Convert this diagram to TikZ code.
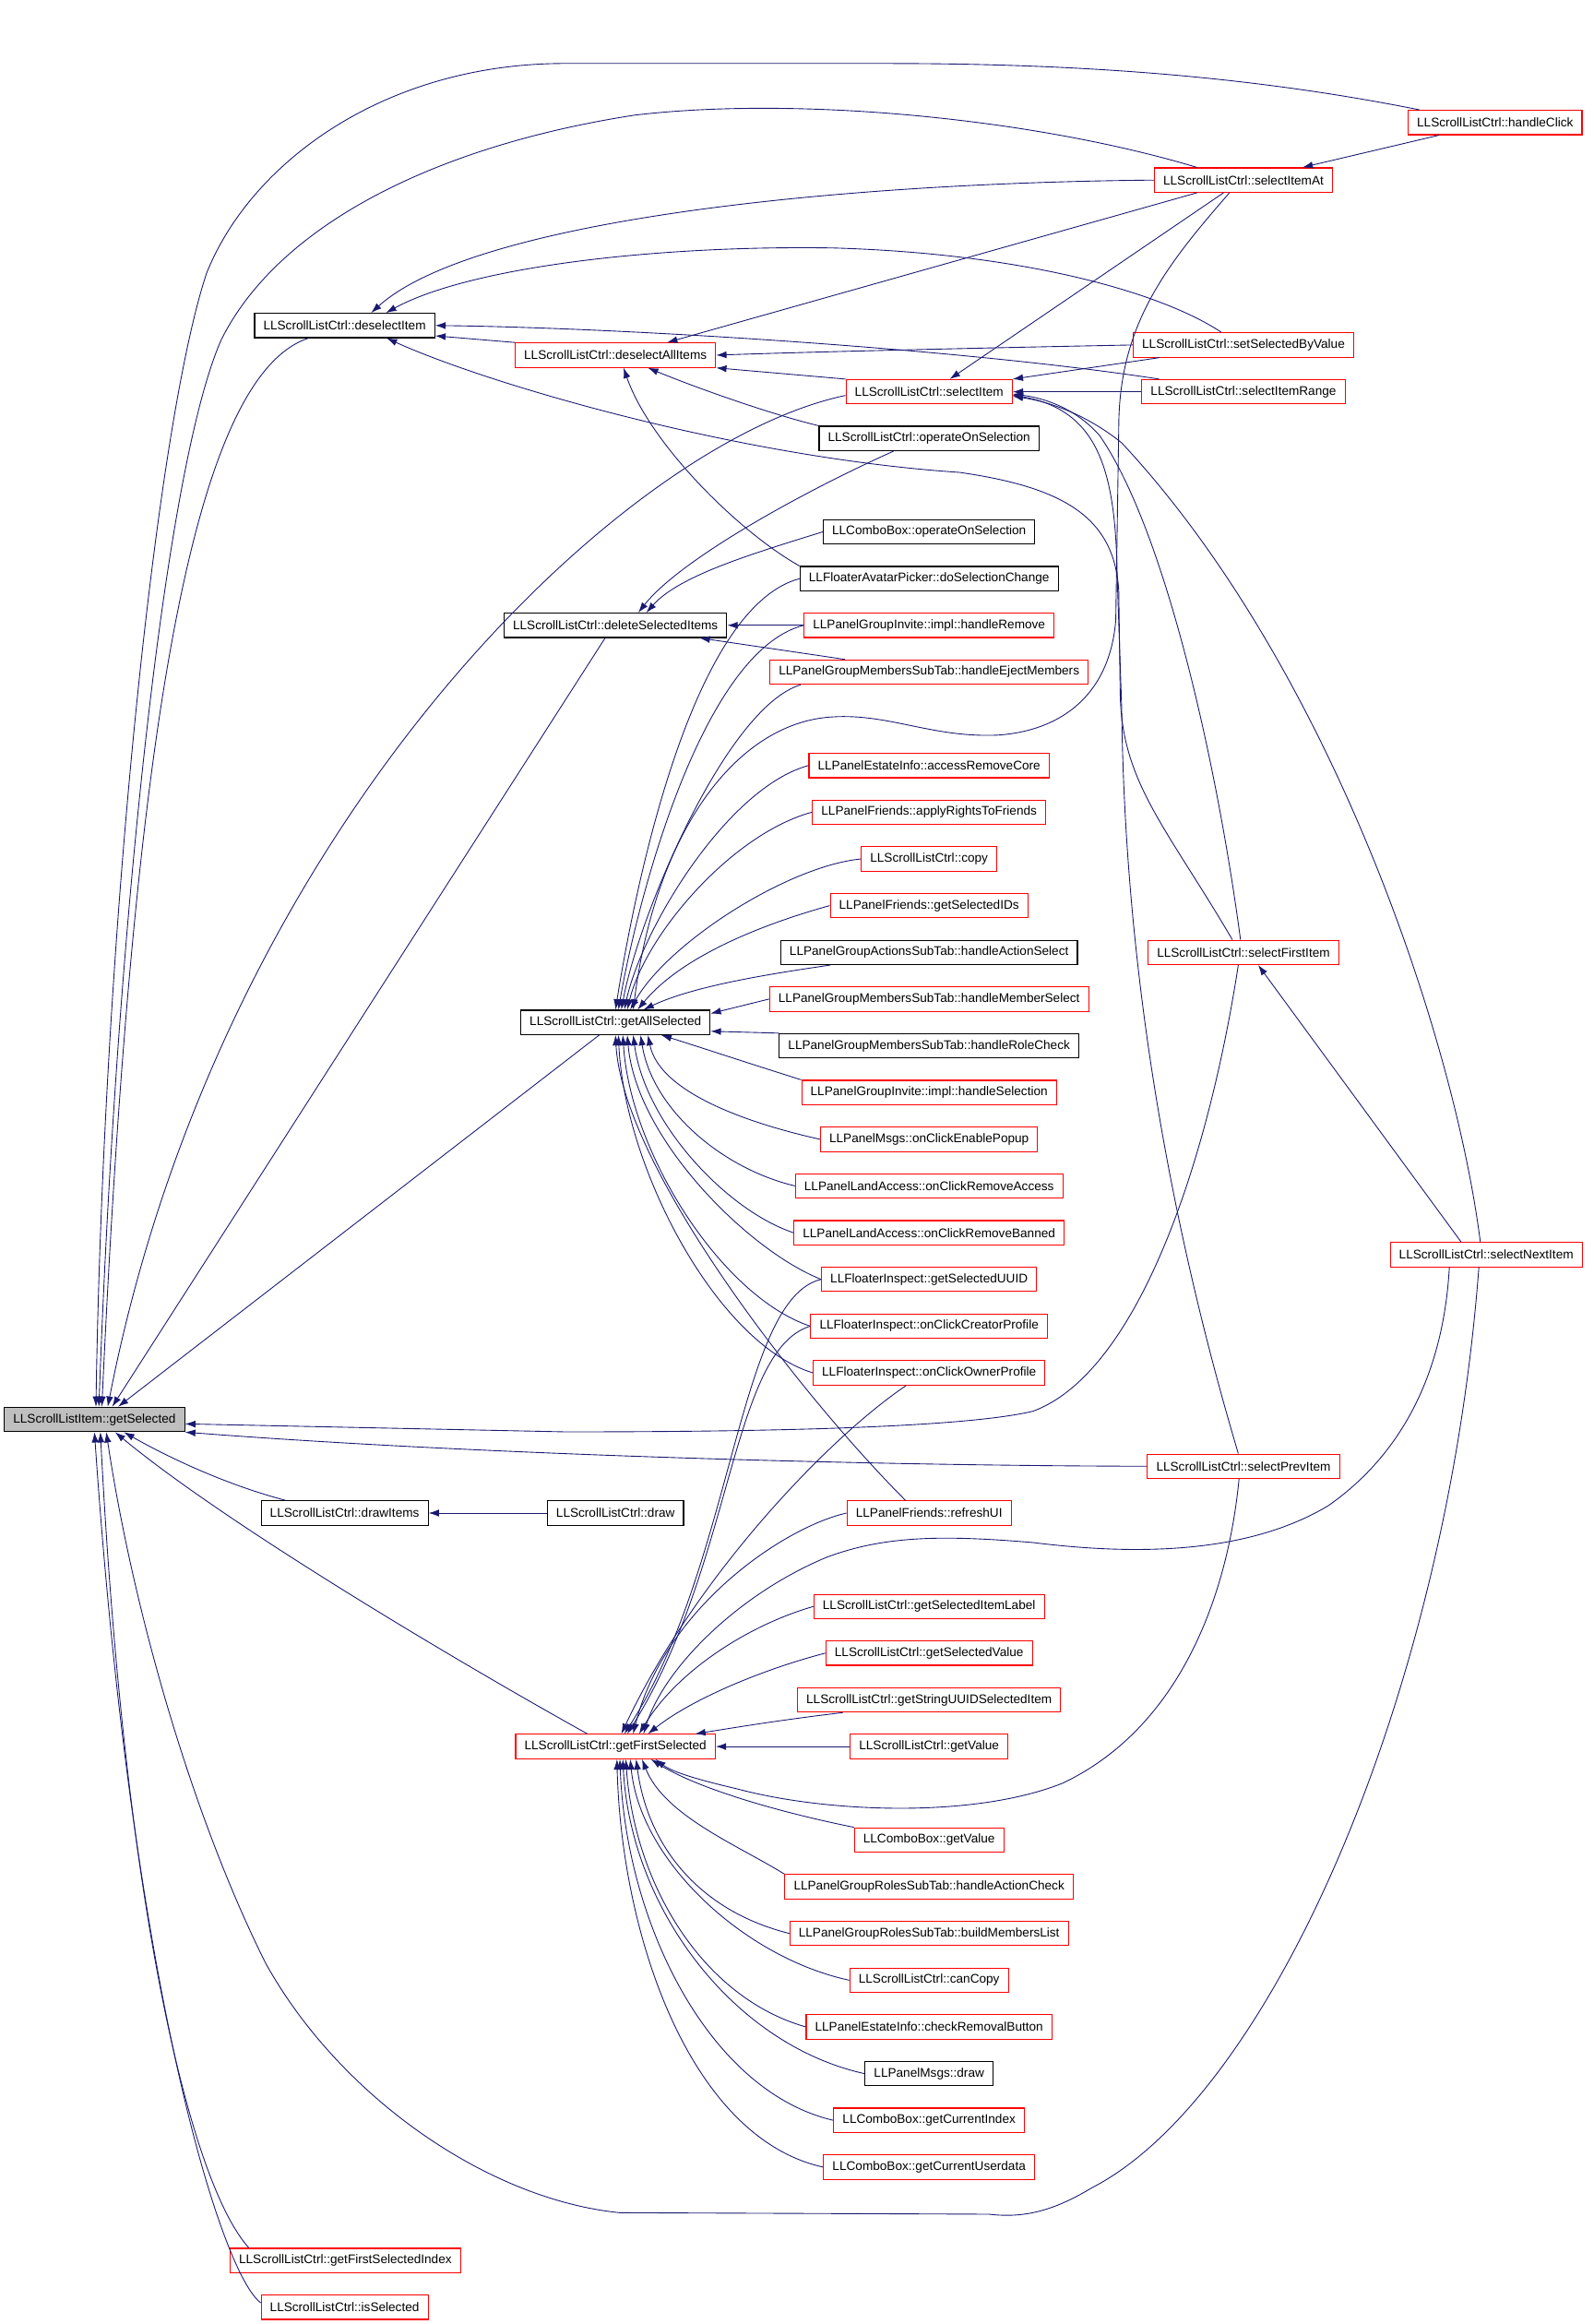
\documentclass[tikz,border=0pt]{standalone}
\usepackage{fontspec}
\setmainfont{Liberation Sans}
\usetikzlibrary{arrows.meta}
\definecolor{edgeblue}{HTML}{191970}

\begin{document}
\begin{tikzpicture}[x=1pt, y=-1pt,
        fn/.style={draw=red, line width=0.7pt, font=\fontsize{8.5}{10}\selectfont, inner xsep=6pt, inner ysep=0pt, minimum height=16.5pt},
        fnb/.style={fn, draw=black},
        root/.style={fn, draw=black, fill=black!25},
        call/.style={draw=edgeblue, line width=0.55pt, -{Latex[length=7pt,width=4.8pt]}}]
        \useasboundingbox (0,0) rectangle (1080,1574.4);
        \node [root] (gs) at (64,961.6) {LLScrollListItem::getSelected};
        \node [fnb] (dsi) at (233.5,220.5) {LLScrollListCtrl::deselectItem};
        \node [fnb] (dri) at (233.5,1025) {LLScrollListCtrl::drawItems};
        \node [fn] (fsi) at (234,1531.4) {LLScrollListCtrl::getFirstSelectedIndex};
        \node [fn] (isl) at (233.5,1563) {LLScrollListCtrl::isSelected};
        \node [fn] (dai) at (417,240.6) {LLScrollListCtrl::deselectAllItems};
        \node [fnb] (dsel) at (417,423.6) {LLScrollListCtrl::deleteSelectedItems};
        \node [fnb] (gal) at (417,692.6) {LLScrollListCtrl::getAllSelected};
        \node [fnb] (drw) at (417,1025) {LLScrollListCtrl::draw};
        \node [fn] (gfs) at (417,1183.2) {LLScrollListCtrl::getFirstSelected};
        \node [fn] (sli) at (629.5,265.4) {LLScrollListCtrl::selectItem};
        \node [fnb] (oos) at (629.5,297) {LLScrollListCtrl::operateOnSelection};
        \node [fnb] (coos) at (629.5,360.3) {LLComboBox::operateOnSelection};
        \node [fnb] (dsc) at (629.5,392) {LLFloaterAvatarPicker::doSelectionChange};
        \node [fn] (hrm) at (629.5,423.6) {LLPanelGroupInvite::impl::handleRemove};
        \node [fn] (hem) at (629.5,455.3) {LLPanelGroupMembersSubTab::handleEjectMembers};
        \node [fn] (arc) at (629.5,518.6) {LLPanelEstateInfo::accessRemoveCore};
        \node [fn] (arf) at (629.5,550.2) {LLPanelFriends::applyRightsToFriends};
        \node [fn] (cpy) at (629.5,581.9) {LLScrollListCtrl::copy};
        \node [fn] (gsid) at (629.5,613.5) {LLPanelFriends::getSelectedIDs};
        \node [fnb] (has) at (629.5,645.2) {LLPanelGroupActionsSubTab::handleActionSelect};
        \node [fn] (hms) at (629.5,676.8) {LLPanelGroupMembersSubTab::handleMemberSelect};
        \node [fnb] (hrc) at (629.5,708.5) {LLPanelGroupMembersSubTab::handleRoleCheck};
        \node [fn] (hsel) at (629.5,740.1) {LLPanelGroupInvite::impl::handleSelection};
        \node [fn] (oep) at (629.5,771.8) {LLPanelMsgs::onClickEnablePopup};
        \node [fn] (ora) at (629.5,803.4) {LLPanelLandAccess::onClickRemoveAccess};
        \node [fn] (orb) at (629.5,835.1) {LLPanelLandAccess::onClickRemoveBanned};
        \node [fn] (gsu) at (629.5,866.7) {LLFloaterInspect::getSelectedUUID};
        \node [fn] (ocp) at (629.5,898.4) {LLFloaterInspect::onClickCreatorProfile};
        \node [fn] (oop) at (629.5,930) {LLFloaterInspect::onClickOwnerProfile};
        \node [fn] (rui) at (629.5,1025) {LLPanelFriends::refreshUI};
        \node [fn] (gsl) at (629.5,1088.3) {LLScrollListCtrl::getSelectedItemLabel};
        \node [fn] (gsv) at (629.5,1119.9) {LLScrollListCtrl::getSelectedValue};
        \node [fn] (suid) at (629.5,1151.6) {LLScrollListCtrl::getStringUUIDSelectedItem};
        \node [fn] (gv) at (629.5,1183.2) {LLScrollListCtrl::getValue};
        \node [fn] (cgv) at (629.5,1246.5) {LLComboBox::getValue};
        \node [fn] (hac) at (629.5,1278.2) {LLPanelGroupRolesSubTab::handleActionCheck};
        \node [fn] (bml) at (629.5,1309.8) {LLPanelGroupRolesSubTab::buildMembersList};
        \node [fn] (ccp) at (629.5,1341.5) {LLScrollListCtrl::canCopy};
        \node [fn] (crb) at (629.5,1373.1) {LLPanelEstateInfo::checkRemovalButton};
        \node [fnb] (mdr) at (629.5,1404.8) {LLPanelMsgs::draw};
        \node [fn] (gci) at (629.5,1436.4) {LLComboBox::getCurrentIndex};
        \node [fn] (gcu) at (629.5,1468.1) {LLComboBox::getCurrentUserdata};
        \node [fn] (sia) at (842.5,122) {LLScrollListCtrl::selectItemAt};
        \node [fn] (ssv) at (842.5,233.7) {LLScrollListCtrl::setSelectedByValue};
        \node [fn] (sir) at (842.5,265.4) {LLScrollListCtrl::selectItemRange};
        \node [fn] (sfi) at (842.5,645.2) {LLScrollListCtrl::selectFirstItem};
        \node [fn] (spi) at (842.5,993.3) {LLScrollListCtrl::selectPrevItem};
        \node [fn] (hcl) at (1013,83) {LLScrollListCtrl::handleClick};
        \node [fn] (sni) at (1007,850) {LLScrollListCtrl::selectNextItem};
        \draw [call] ([xshift=8pt]hcl.north west) .. controls (840,50) and (720,43) .. (600,43) -- (380,43) .. controls (260,44) and (170,110) .. (140,185) .. controls (105,290) and (70,640) .. ([xshift=1pt]gs.north);
        \draw [call] ([xshift=-31.5pt]sia.north) .. controls (700,80) and (540,65) .. (430,78) .. controls (300,98) and (190,150) .. (150,230) .. controls (110,320) and (78,650) .. ([xshift=3pt]gs.north);
        \draw [call] ([xshift=-24.5pt]dsi.south) .. controls (130,255) and (90,500) .. ([xshift=5pt]gs.north);
        \draw [call] ([yshift=-2.5pt]sli.west) .. controls (420,300) and (150,560) .. ([xshift=9pt]gs.north);
        \draw [call] ([xshift=-7pt]dsel.south) -- ([xshift=12pt]gs.north);
        \draw [call] ([xshift=-11pt]gal.south) -- ([xshift=16pt]gs.north);
        \draw [call] ([xshift=-40pt]dri.north) .. controls (150,1005) and (110,985) .. ([xshift=20pt]gs.south);
        \draw [call] ([xshift=-19pt]gfs.north) .. controls (300,1120) and (150,1030) .. ([xshift=14pt]gs.south);
        \draw [call] ([xshift=13pt]fsi.north west) .. controls (130,1480) and (85,1300) .. ([xshift=4pt]gs.south);
        \draw [call] ([yshift=3pt]isl.west) .. controls (150,1540) and (90,1350) .. (gs.south);
        \draw [call] ([xshift=-5pt]sni.south) .. controls (980,1150) and (860,1420) .. (740,1482) .. controls (715,1497) and (695,1503) .. (670,1500) -- (420,1499) .. controls (330,1490) and (230,1420) .. (180,1330) .. controls (130,1230) and (90,1090) .. ([xshift=8pt]gs.south);
        \draw [call] ([xshift=-3.5pt]sfi.south) .. controls (818,790) and (770,930) .. (700,956) .. controls (650,968) and (500,970) .. (383,970) -- ([yshift=-3pt]gs.east);
        \draw [call] (spi.west) .. controls (600,993) and (330,986) .. (gs.south east);
        \draw [call] (drw.west) -- (dri.east);
        \draw [call] ([xshift=-38pt]hcl.south) -- ([xshift=40pt]sia.north);
        \draw [call] (sia.west) .. controls (560,124) and (320,150) .. ([xshift=18pt]dsi.north);
        \draw [call] ([xshift=-15pt]ssv.north) .. controls (790,200) and (700,172) .. (565,168) .. controls (450,166) and (320,180) .. ([xshift=28pt]dsi.north);
        \draw [call] ([xshift=12pt]sir.north west) .. controls (650,236) and (420,222) .. (dsi.east);
        \draw [call] (dai.north west) -- ([yshift=-7pt]dsi.east);
        \draw [call] ([xshift=-7.5pt]sfi.north) .. controls (790,560) and (760,530) .. (759,470) -- (758,400) .. controls (755,350) and (720,330) .. (650,320) .. controls (500,310) and (330,260) .. ([xshift=28.5pt]dsi.south);
        \draw [call] ([xshift=-31.5pt]sia.south) -- ([xshift=35pt]dai.north);
        \draw [call] (ssv.west) .. controls (700,235) and (560,238) .. (dai.east);
        \draw [call] (sli.north west) -- (dai.south east);
        \draw [call] (oos.north west) .. controls (520,280) and (470,262) .. ([xshift=22pt]dai.south);
        \draw [call] (dsc.north west) .. controls (500,360) and (440,300) .. ([xshift=5.5pt]dai.south);
        \draw [call] ([xshift=-13.5pt]sia.south) -- ([xshift=14pt]sli.north);
        \draw [call] ([xshift=-57pt]ssv.south) -- (sli.north east);
        \draw [call] (sir.west) -- (sli.east);
        \draw [call] ([xshift=-4pt]sni.north) .. controls (985,700) and (900,450) .. (760,300) .. controls (735,280) and (710,272) .. ([yshift=-3pt]sli.east);
        \draw [call] ([xshift=-2pt]sfi.north) .. controls (825,520) and (790,360) .. (745,295) .. controls (730,278) and (710,270) .. ([yshift=-1.5pt]sli.east);
        \draw [call] ([xshift=-3.5pt]spi.north) .. controls (790,820) and (762,650) .. (760,480) -- (757,392) .. controls (756,320) and (745,278) .. ([yshift=-2.2pt]sli.east);
        \draw [call] ([xshift=-17pt]sni.north) -- ([xshift=10pt]sfi.south);
        \draw [call] ([xshift=-24pt]oos.south) .. controls (540,335) and (460,380) .. ([xshift=15.5pt]dsel.north);
        \draw [call] (coos.west) .. controls (510,375) and (460,390) .. ([xshift=21pt]dsel.north);
        \draw [call] (hrm.west) -- (dsel.east);
        \draw [call] ([xshift=-57pt]hem.north) -- ([xshift=57pt]dsel.south);
        \draw [call] ([xshift=-9.5pt]sia.south) .. controls (790,180) and (758,220) .. (758,290) -- (756,420) .. controls (752,470) and (720,495) .. (676,498) .. controls (630,500) and (600,482) .. (560,486) .. controls (500,492) and (445,560) .. ([xshift=12pt]gal.north);
        \draw [call] (dsc.west) .. controls +(-75,20) and +(12,-75) .. (gal.north);
        \draw [call] (hrm.west) .. controls +(-70,18) and +(12,-70) .. ([xshift=2pt]gal.north);
        \draw [call] ([xshift=-87pt]hem.south) .. controls +(-50,15) and +(12,-65) .. ([xshift=4pt]gal.north);
        \draw [call] (arc.west) .. controls +(-55,15) and +(12,-55) .. ([xshift=6pt]gal.north);
        \draw [call] (arf.west) .. controls +(-55,15) and +(12,-50) .. ([xshift=8pt]gal.north);
        \draw [call] (cpy.west) .. controls +(-50,5) and +(25,-45) .. ([xshift=10pt]gal.north);
        \draw [call] (gsid.west) .. controls (510,628) and (460,650) .. ([xshift=15pt]gal.north);
        \draw [call] ([xshift=-67pt]has.south) .. controls (520,660) and (470,668) .. ([xshift=19pt]gal.north);
        \draw [call] (hms.west) -- ([yshift=6pt]gal.east);
        \draw [call] (hrc.north west) -- ([yshift=-6pt]gal.east);
        \draw [call] (hsel.north west) .. controls (500,718) and (470,708) .. ([xshift=31pt]gal.south);
        \draw [call] (oep.west) .. controls +(-45,-10) and +(8,40) .. ([xshift=22pt]gal.south);
        \draw [call] (ora.west) .. controls +(-50,-12) and +(8,50) .. ([xshift=17pt]gal.south);
        \draw [call] (orb.west) .. controls +(-45,-15) and +(8,60) .. ([xshift=12pt]gal.south);
        \draw [call] (gsu.west) .. controls +(-50,-20) and +(6,70) .. ([xshift=8pt]gal.south);
        \draw [call] (ocp.west) .. controls +(-60,-20) and +(5,80) .. ([xshift=5pt]gal.south);
        \draw [call] (oop.west) .. controls +(-65,-20) and +(4,90) .. ([xshift=2pt]gal.south);
        \draw [call] ([xshift=-16pt]rui.north) .. controls +(-70,-70) and +(5,90) .. (gal.south);
        \draw [call] ([xshift=-25pt]sni.south) .. controls (978,930) and (950,985) .. (900,1020) .. controls (850,1050) and (780,1055) .. (700,1045) .. controls (640,1040) and (600,1040) .. (560,1055) .. controls (500,1080) and (450,1130) .. ([xshift=19pt]gfs.north);
        \draw [call] ([xshift=-3pt]spi.south) .. controls (832,1080) and (800,1170) .. (720,1208) .. controls (660,1232) and (560,1228) .. (500,1212) .. controls (470,1205) and (455,1200) .. ([xshift=27pt]gfs.south);
        \draw [call] (rui.west) .. controls (530,1035) and (450,1090) .. ([xshift=12pt]gfs.north);
        \draw [call] (gsu.west) .. controls (500,880) and (497,1060) .. ([xshift=6pt]gfs.north);
        \draw [call] (ocp.west) .. controls (495,915) and (497,1060) .. ([xshift=8pt]gfs.north);
        \draw [call] ([xshift=-15.5pt]oop.south) .. controls (560,975) and (470,1070) .. ([xshift=4pt]gfs.north);
        \draw [call] (gsl.west) .. controls (510,1100) and (460,1130) .. ([xshift=16pt]gfs.north);
        \draw [call] (gsv.west) .. controls (520,1130) and (470,1150) .. ([xshift=22pt]gfs.north);
        \draw [call] ([xshift=-58.5pt]suid.south) .. controls (530,1165) and (500,1170) .. ([xshift=54pt]gfs.north);
        \draw [call] (gv.west) -- (gfs.east);
        \draw [call] (cgv.north west) .. controls (520,1226) and (470,1210) .. ([xshift=24pt]gfs.south);
        \draw [call] (hac.north west) .. controls (500,1250) and (450,1230) .. ([xshift=18pt]gfs.south);
        \draw [call] (bml.west) .. controls +(-60,-15) and +(8,60) .. ([xshift=14pt]gfs.south);
        \draw [call] (ccp.west) .. controls +(-70,-15) and +(7,70) .. ([xshift=10pt]gfs.south);
        \draw [call] (crb.west) .. controls +(-70,-20) and +(6,85) .. ([xshift=7pt]gfs.south);
        \draw [call] (mdr.west) .. controls +(-90,-20) and +(5,100) .. ([xshift=5pt]gfs.south);
        \draw [call] (gci.west) .. controls +(-85,-20) and +(4,110) .. ([xshift=3pt]gfs.south);
        \draw [call] (gcu.west) .. controls +(-90,-20) and +(3,120) .. ([xshift=1pt]gfs.south);
    \end{tikzpicture}
\end{document}
